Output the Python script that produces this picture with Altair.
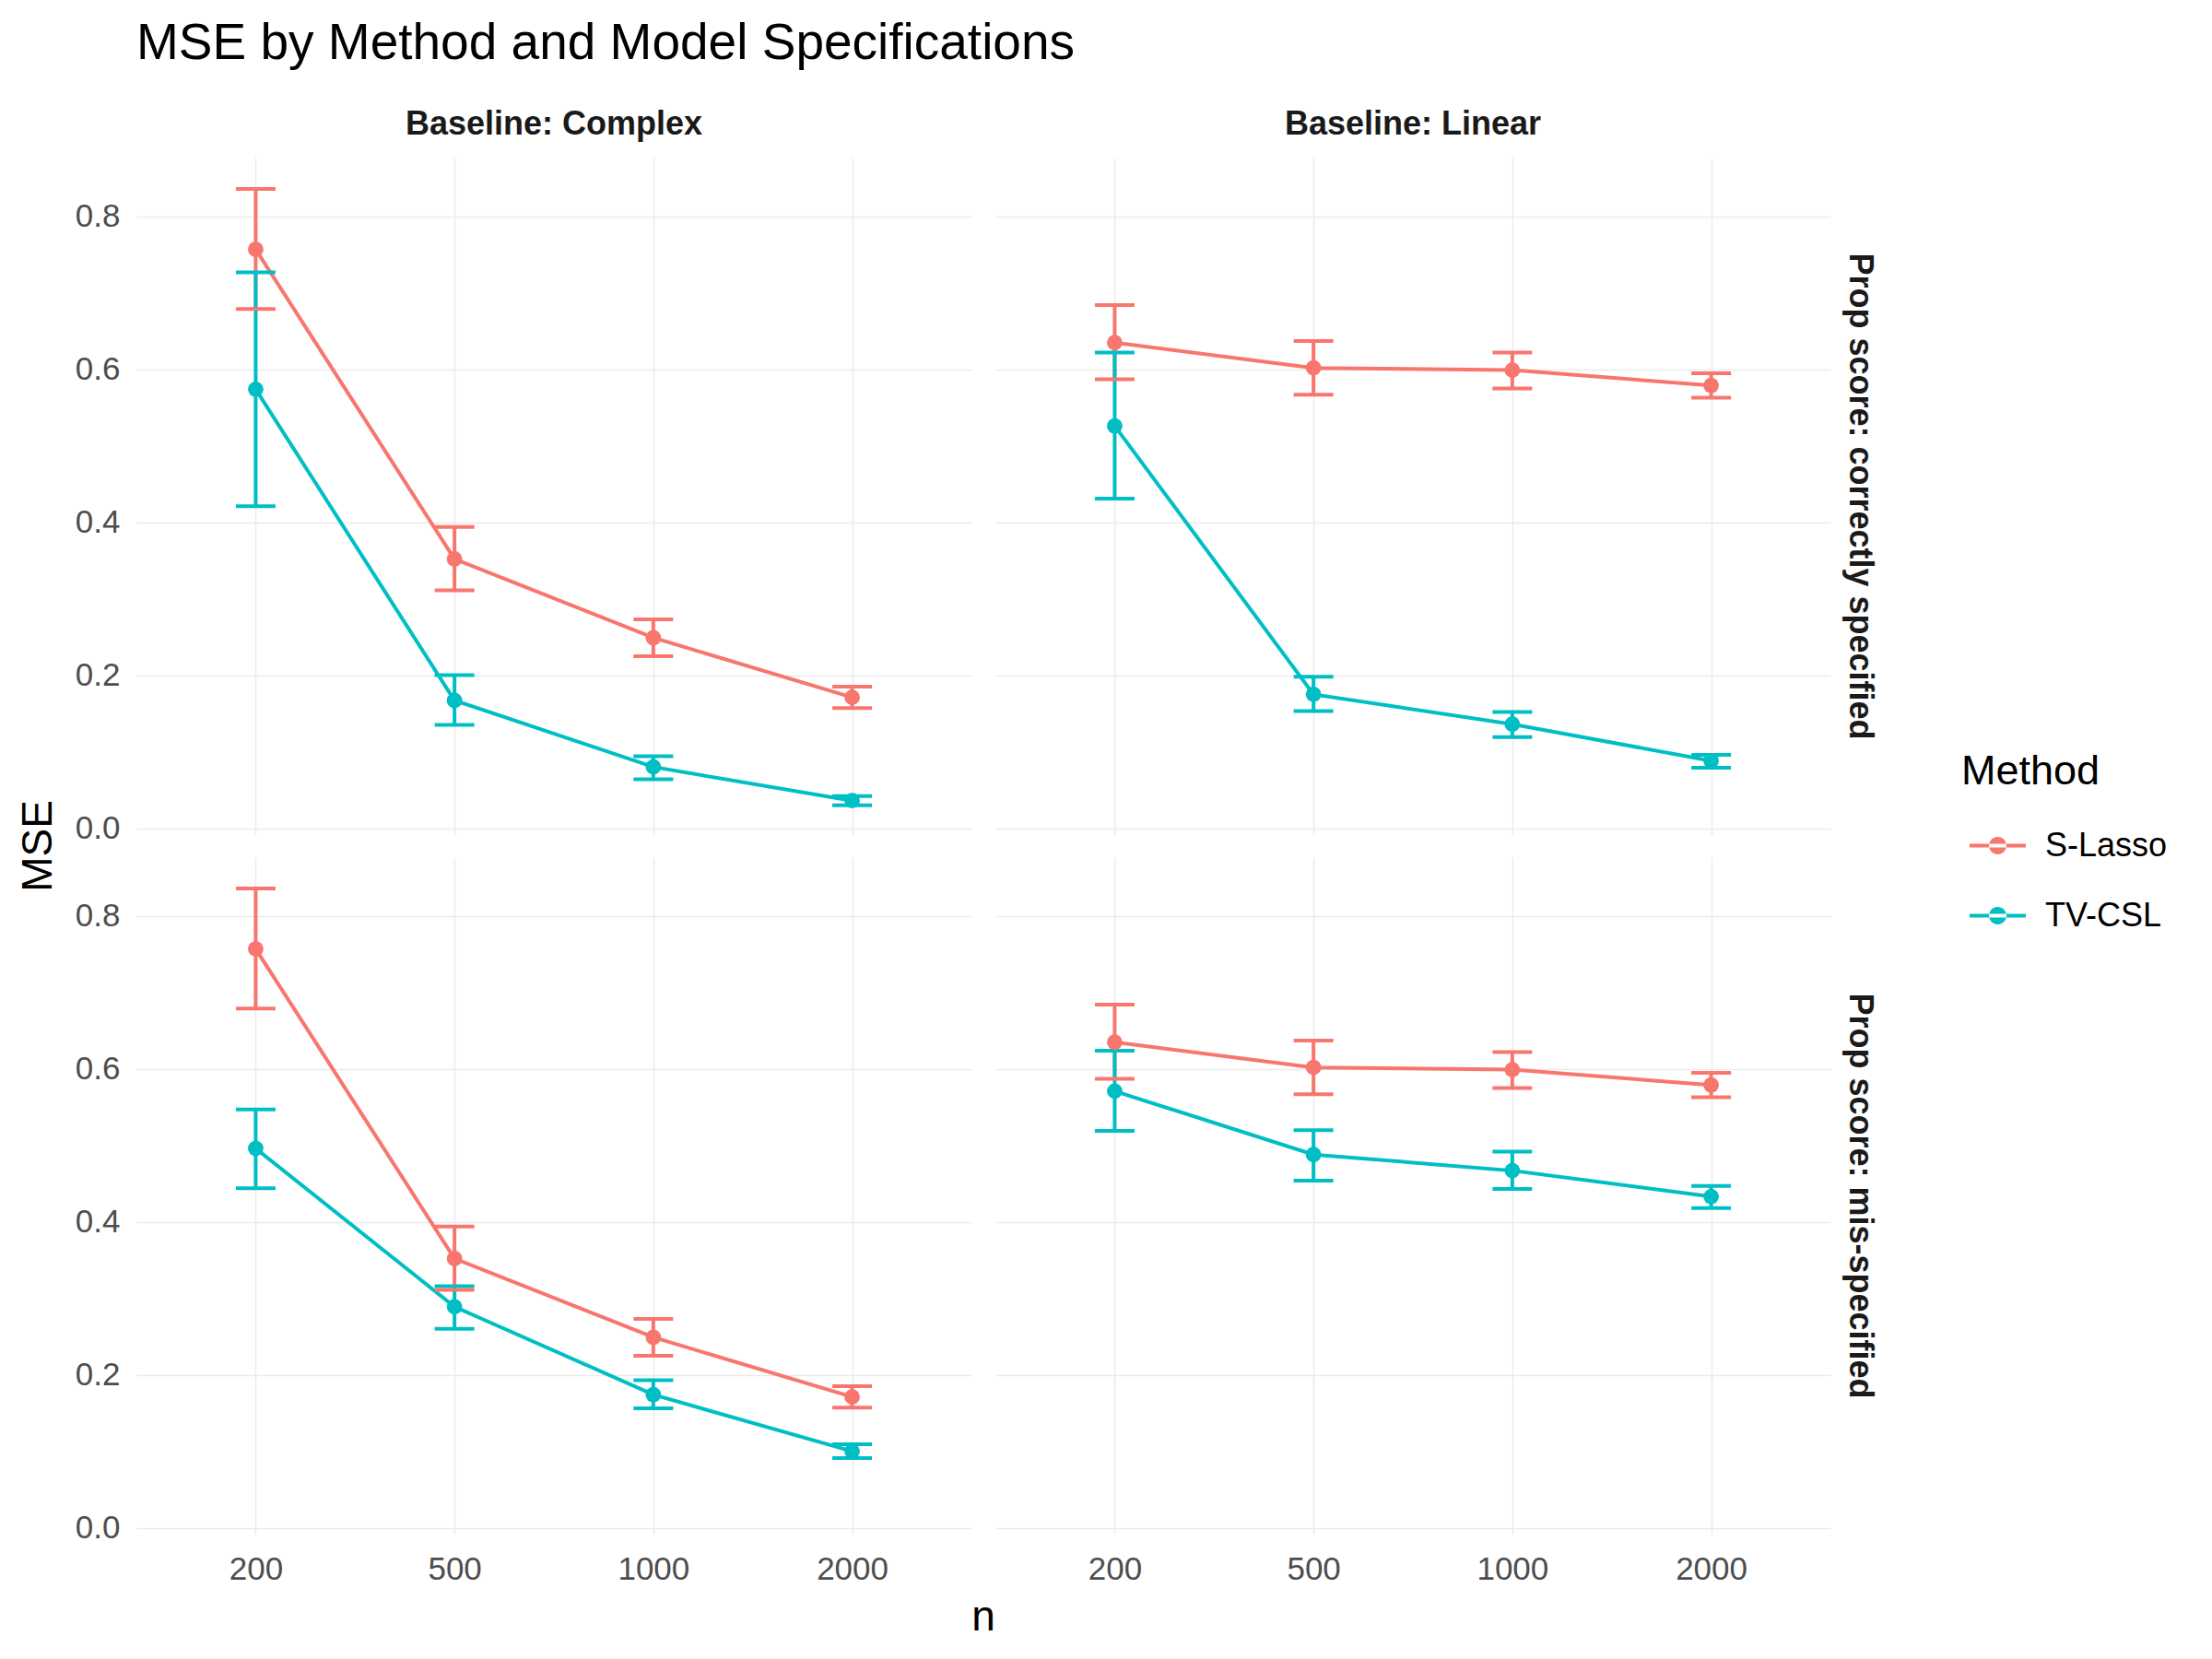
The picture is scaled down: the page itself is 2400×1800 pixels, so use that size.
import altair as alt
import pandas as pd

# ---------------- data ----------------
n_values = [200, 500, 1000, 2000]
baselines = ["Baseline: Complex", "Baseline: Linear"]
propscores = ["Prop score: correctly specified", "Prop score: mis-specified"]
methods = ["S-Lasso", "TV-CSL"]

# Baseline: Complex
slasso_complex_mse = [0.757, 0.352, 0.249, 0.171]
slasso_complex_lo = [0.679, 0.311, 0.225, 0.157]
slasso_complex_hi = [0.836, 0.394, 0.273, 0.185]

tvcsl_complex_correct_mse = [0.574, 0.167, 0.080, 0.036]
tvcsl_complex_correct_lo = [0.421, 0.135, 0.064, 0.030]
tvcsl_complex_correct_hi = [0.727, 0.200, 0.094, 0.042]

tvcsl_complex_mis_mse = [0.496, 0.289, 0.174, 0.100]
tvcsl_complex_mis_lo = [0.444, 0.260, 0.156, 0.091]
tvcsl_complex_mis_hi = [0.547, 0.316, 0.193, 0.109]

# Baseline: Linear
slasso_linear_mse = [0.635, 0.602, 0.599, 0.579]
slasso_linear_lo = [0.587, 0.567, 0.575, 0.563]
slasso_linear_hi = [0.684, 0.637, 0.622, 0.595]

tvcsl_linear_correct_mse = [0.526, 0.175, 0.136, 0.088]
tvcsl_linear_correct_lo = [0.431, 0.153, 0.119, 0.079]
tvcsl_linear_correct_hi = [0.622, 0.198, 0.152, 0.096]

tvcsl_linear_mis_mse = [0.571, 0.488, 0.467, 0.433]
tvcsl_linear_mis_lo = [0.519, 0.454, 0.443, 0.418]
tvcsl_linear_mis_hi = [0.624, 0.520, 0.492, 0.447]

series = [
    (baselines[0], propscores[0], methods[0], slasso_complex_mse, slasso_complex_lo, slasso_complex_hi),
    (baselines[0], propscores[0], methods[1], tvcsl_complex_correct_mse, tvcsl_complex_correct_lo, tvcsl_complex_correct_hi),
    (baselines[0], propscores[1], methods[0], slasso_complex_mse, slasso_complex_lo, slasso_complex_hi),
    (baselines[0], propscores[1], methods[1], tvcsl_complex_mis_mse, tvcsl_complex_mis_lo, tvcsl_complex_mis_hi),
    (baselines[1], propscores[0], methods[0], slasso_linear_mse, slasso_linear_lo, slasso_linear_hi),
    (baselines[1], propscores[0], methods[1], tvcsl_linear_correct_mse, tvcsl_linear_correct_lo, tvcsl_linear_correct_hi),
    (baselines[1], propscores[1], methods[0], slasso_linear_mse, slasso_linear_lo, slasso_linear_hi),
    (baselines[1], propscores[1], methods[1], tvcsl_linear_mis_mse, tvcsl_linear_mis_lo, tvcsl_linear_mis_hi),
]

rows = []
for b, p, m, mse, lo, hi in series:
    for n, v, l, h in zip(n_values, mse, lo, hi):
        rows.append({"baseline": b, "ps": p, "Method": m, "n": n, "MSE": v, "lo": l, "hi": h})
df = pd.DataFrame(rows)

# ---------------- chart ----------------
FONT = "Liberation Sans"
colors = ["#F8766D", "#00BFC4"]

legend_path = ("M-1,-0.065L1,-0.065L1,0.065L-1,0.065Z "
               "M-0.31,0A0.31,0.31 0 1,0 0.31,0A0.31,0.31 0 1,0 -0.31,0Z")

color = alt.Color(
    "Method:N",
    scale=alt.Scale(domain=methods, range=colors),
    legend=alt.Legend(
        title="Method",
        orient="none",
        legendX=1980,
        legendY=644,
        symbolType=legend_path,
        symbolSize=3721,
        symbolStrokeWidth=0,
        symbolOpacity=1,
        symbolOffset=9,
        labelFontSize=36,
        labelFont=FONT,
        labelColor="black",
        labelOffset=21,
        titleFontSize=45,
        titleFont=FONT,
        titleFontWeight="normal",
        titleColor="black",
        titlePadding=27,
        rowPadding=27,
    ),
)

x = alt.X(
    "n:O",
    sort=n_values,
    scale=alt.Scale(type="point", padding=0.6),
    axis=alt.Axis(title=None, labelAngle=0, labelFontSize=35, labelFont=FONT,
                  labelColor="#4D4D4D", labelPadding=20, ticks=False, domain=False,
                  grid=True, gridColor="#EBEBEB", gridWidth=1.5),
)
yscale = alt.Scale(domain=[-0.009, 0.877], nice=False, zero=False)
y = alt.Y(
    "MSE:Q",
    scale=yscale,
    axis=alt.Axis(title=None, values=[0, 0.2, 0.4, 0.6, 0.8], format=".1f",
                  labelFontSize=35, labelFont=FONT, labelColor="#4D4D4D",
                  labelPadding=18, ticks=False, domain=False, grid=True,
                  gridColor="#EBEBEB", gridWidth=1.5),
)

base = alt.Chart(df)

line = base.mark_line(strokeWidth=4).encode(x=x, y=y, color=color)
rule = base.mark_rule(strokeWidth=4).encode(
    x=x, y=alt.Y("lo:Q", scale=yscale), y2="hi:Q", color=color)
cap_hi = base.mark_tick(size=43, thickness=4, opacity=1).encode(
    x=x, y=alt.Y("hi:Q", scale=yscale), color=color)
cap_lo = base.mark_tick(size=43, thickness=4, opacity=1).encode(
    x=x, y=alt.Y("lo:Q", scale=yscale), color=color)
point = base.mark_point(filled=True, size=283, opacity=1).encode(x=x, y=y, color=color)

layered = alt.layer(line, rule, cap_hi, cap_lo, point).properties(width=906, height=735)

chart = layered.facet(
    column=alt.Column(
        "baseline:N", sort=baselines,
        header=alt.Header(title="n", titleOrient="bottom", labelOrient="top",
                          labelFontSize=36, labelFont=FONT, labelFontWeight="bold",
                          labelColor="#1A1A1A", labelPadding=17,
                          titleFontSize=46, titleFont=FONT, titleFontWeight="normal",
                          titleColor="black", titlePadding=3),
    ),
    row=alt.Row(
        "ps:N", sort=propscores,
        header=alt.Header(title="MSE", titleOrient="left", labelOrient="right",
                          labelAngle=90, labelFontSize=36, labelFont=FONT,
                          labelFontWeight="bold", labelColor="#1A1A1A", labelPadding=13,
                          titleFontSize=46, titleFont=FONT, titleFontWeight="normal",
                          titleColor="black", titlePadding=5),
    ),
    spacing={"row": 24, "column": 26},
).properties(
    title=alt.Title("MSE by Method and Model Specifications", anchor="start",
                    frame="group", fontSize=55, font=FONT, fontWeight="normal",
                    color="black", offset=41),
    padding={"left": 11, "top": 12, "right": 5, "bottom": 5},
    background="white",
).configure_view(stroke=None, strokeWidth=0)

chart.save("out.html", embed_options={"renderer": "svg", "actions": False})
